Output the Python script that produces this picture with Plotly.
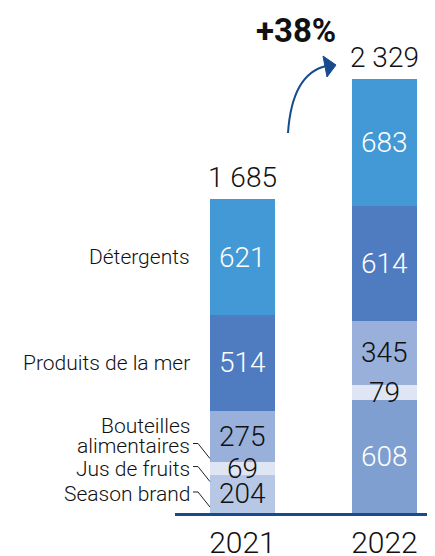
import plotly.graph_objects as go

years = ["2021", "2022"]
segments = ["Season brand", "Jus de fruits", "Bouteilles alimentaires", "Produits de la mer", "Détergents"]
season_brand = [204, 608]
jus_de_fruits = [69, 79]
bouteilles = [275, 345]
produits_mer = [514, 614]
detergents = [621, 683]
totals = [1685, 2329]
growth_label = "+38%"

series = [season_brand, jus_de_fruits, bouteilles, produits_mer, detergents]
colors = [["#b7c8e7", "#7f9fd0"], ["#dfe5f2", "#dfe5f2"], ["#98b0da", "#98b0da"],
          ["#4f7bc1", "#4f7bc1"], ["#4299d6", "#4299d6"]]
text_colors = [["#111111", "#ffffff"], ["#111111", "#111111"], ["#111111", "#111111"],
               ["#ffffff", "#ffffff"], ["#ffffff", "#ffffff"]]

OFF = 8  # page body margin
W, H = 435 - OFF, 556 - OFF
PL, PR, BASE = 175, 435, 513
L, R, T = PL - OFF, 0, 0
B = (556 - BASE)
PH = H - T - B
XMIN, XMAX = -0.475, 1.356
PXU = (PR - PL) / (XMAX - XMIN)
YMAX = 2329 * PH / (BASE - 79)
PYU = PH / YMAX
BARW = 0.458
FONT = "Roboto"

def xd(px):
    return (px - PL) / PXU + XMIN

def xp(px):
    return (px - PL) / (PR - PL)

def yp(py):
    return (BASE - py) / PH

fig = go.Figure()
for name, vals, col in zip(segments, series, colors):
    fig.add_trace(go.Bar(x=[0, 1], y=vals, name=name, marker=dict(color=col, line=dict(width=0)),
                         width=BARW, hoverinfo="skip"))

ann = []
shapes = []
for i in range(2):
    base = 0
    for s, vals in enumerate(series):
        v = vals[i]
        mid = base + v / 2
        ann.append(dict(x=i, y=mid, xref="x", yref="y", text=str(v), showarrow=False,
                        font=dict(family=FONT, size=28, color=text_colors[s][i], weight=300),
                        xanchor="center", yanchor="middle"))
        base += v
    tot = sum(s[i] for s in series)
    t = f"{totals[i]:,}".replace(",", " ")
    ann.append(dict(x=i, y=tot, xref="x", yref="y", text=t, showarrow=False, yshift=3,
                    font=dict(family=FONT, size=28, color="#111111", weight=300),
                    xanchor="center", yanchor="bottom"))

lab_x = xd(192)
bar_left = 0 - BARW / 2
base = 0
for s, vals in enumerate(series):
    v = vals[0]
    mid = base + v / 2
    base += v
    lf = dict(family=FONT, size=21, color="#111111", weight=300)
    if s == 2:
        ann.append(dict(x=lab_x, y=mid, xref="x", yref="y", text="Bouteilles", showarrow=False,
                        xanchor="right", yanchor="middle", yshift=11, font=lf))
        ann.append(dict(x=lab_x, y=mid, xref="x", yref="y", text="alimentaires", showarrow=False,
                        xanchor="right", yanchor="middle", yshift=-9, font=lf))
        cy = mid - 7 / PYU
    else:
        ann.append(dict(x=lab_x, y=mid, xref="x", yref="y", text=segments[s], showarrow=False,
                        xanchor="right", yanchor="middle", font=lf))
        cy = mid + 2 / PYU
    if s <= 2:
        x0, x1, x2 = xd(193), xd(198), bar_left
        y0, y2 = cy, cy - 15 / PYU
        shapes.append(dict(type="path", xref="x", yref="y",
                           path=f"M {x0},{y0} L {x1},{y0} L {x2},{y2}",
                           line=dict(color="#222222", width=1)))

ann.append(dict(x=xp(296), y=yp(30), xref="paper", yref="paper", text=f"<b>{growth_label}</b>",
                showarrow=False, xanchor="center", yanchor="middle",
                font=dict(family=FONT, size=33, color="#111111")))

def P(px, py):
    return f"{xp(px)},{yp(py)}"
shapes.append(dict(type="path", xref="paper", yref="paper",
                   path=f"M {P(288,133)} Q {P(292,74)} {P(326,66)}",
                   line=dict(color="#174a8e", width=2)))
shapes.append(dict(type="path", xref="paper", yref="paper",
                   path=f"M {P(323,56)} L {P(336,65)} L {P(327,77)} Z",
                   fillcolor="#174a8e", line=dict(color="#174a8e", width=1)))

fig.update_layout(
    barmode="stack", width=W, height=H, showlegend=False,
    margin=dict(l=L, r=R, t=T, b=B, autoexpand=False),
    paper_bgcolor="white", plot_bgcolor="white",
    font=dict(family=FONT, color="#111111"),
    annotations=ann, shapes=shapes, bargap=0,
    xaxis=dict(range=[XMIN, XMAX], tickmode="array", tickvals=[0, 1], ticktext=years,
               showgrid=False, zeroline=False, showline=True, linecolor="#174a8e", linewidth=3,
               ticks="", tickfont=dict(family=FONT, size=30, color="#111111", weight=300),
               ticklabelstandoff=1, automargin=False, fixedrange=True),
    yaxis=dict(range=[0, YMAX], visible=False, showgrid=False, zeroline=False,
               automargin=False, fixedrange=True),
)
fig.write_html("out.html")
